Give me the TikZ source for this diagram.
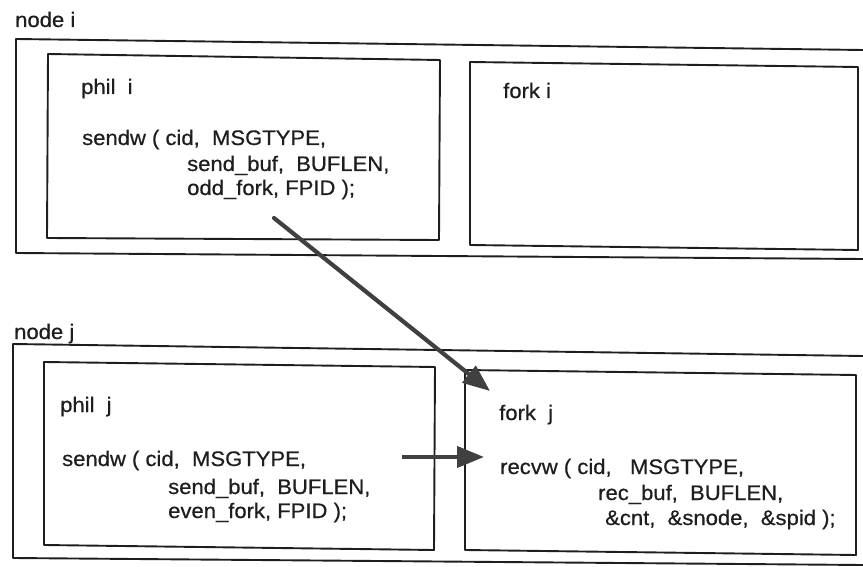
\documentclass[tikz,border=0pt]{standalone}
\usepackage{fontspec}
\setmainfont{Liberation Sans}[FakeStretch=1.05,FakeBold=0.6]
\usetikzlibrary{arrows.meta}
\definecolor{ink}{HTML}{1E1E1E}
\definecolor{arrowink}{HTML}{404040}
\begin{document}
\begin{tikzpicture}[x=1pt,y=-1pt,
  boxline/.style={draw=ink,line width=1.9pt,line join=round},
  txt/.style={anchor=base west,inner sep=0pt,text=ink,font=\fontsize{21}{25}\selectfont},
  bigarrow/.style={draw=arrowink,line width=4.2pt,line cap=round,-{Triangle[length=27pt,width=21pt]}}]
\useasboundingbox (0,0) rectangle (863,567);
% node i
\draw[boxline] (863,50) -- (16,39) -- (16,253) -- (863,259);
\draw[boxline] (48,54) -- (440,60) -- (439,240) -- (47,238) -- cycle;
\draw[boxline] (470,62) -- (858,67) -- (858,250) -- (470,245) -- cycle;
\node[txt] (ni) at (15,27) {node i};
\node[txt] (phi) at (81,94) {phil\ \ i};
\node[txt] (s1) at (82,145) {sendw ( cid,\ \ MSGTYPE,};
\node[txt] (s2) at (187,171) {send\_buf,\ \ BUFLEN,};
\node[txt] (s3) at (187,195) {odd\_fork, FPID );};
\node[txt] (fi) at (503,98) {fork i};
% node j
\draw[boxline] (863,356) -- (13,344) -- (13,558) -- (863,565);
\draw[boxline] (44,362) -- (435,367) -- (434,550) -- (44,545) -- cycle;
\draw[boxline] (465,370) -- (856,375) -- (856,555) -- (465,550) -- cycle;
\node[txt] (nj) at (14,339) {node j};
\node[txt] (phj) at (60,412) {phil\ \ j};
\node[txt] (t1) at (62,466) {sendw ( cid,\ \ MSGTYPE,};
\node[txt] (t2) at (168,494) {send\_buf,\ \ BUFLEN,};
\node[txt] (t3) at (168,518) {even\_fork, FPID );};
\node[txt] (fj) at (499,420) {fork\ \ j};
\node[txt] (r1) at (500,474) {recvw ( cid,\ \ \ MSGTYPE,};
\node[txt] (r2) at (598,500) {rec\_buf,\ \ BUFLEN,};
\node[txt] (r3) at (605,525) {\&cnt,\ \ \&snode,\ \ \&spid );};
% arrows
\coordinate (a1) at (274,218);
\coordinate (a2) at (490,391);
\coordinate (b1) at (402,457);
\coordinate (b2) at (484,457);
\draw[bigarrow] (a1) -- (a2);
\draw[bigarrow,line cap=butt] (b1) -- (b2);
\end{tikzpicture}
\end{document}
